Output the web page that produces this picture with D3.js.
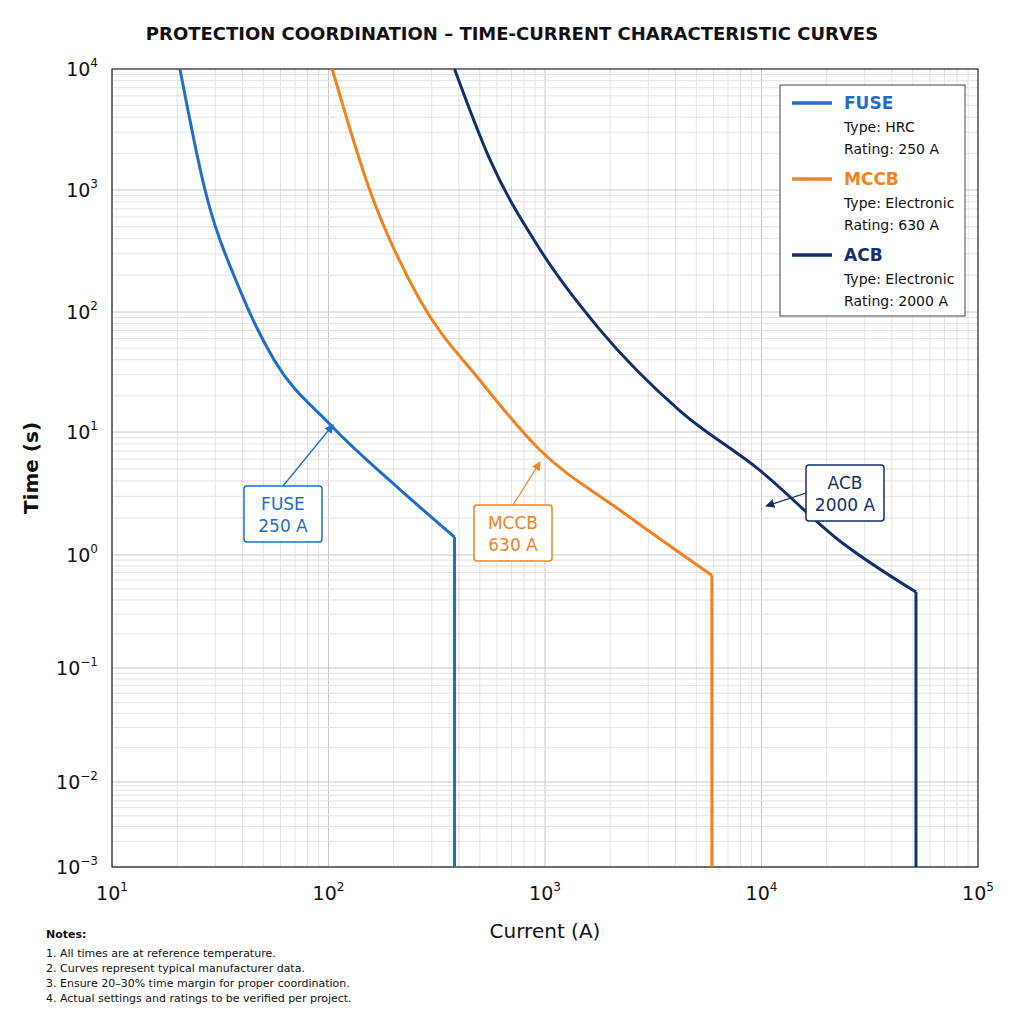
<!DOCTYPE html>
<html><head><meta charset="utf-8">
<script src="https://cdn.jsdelivr.net/npm/d3@7"></script>
<style>body{margin:0;background:#fff;font-family:"DejaVu Sans",sans-serif}</style>
</head><body><svg id="chart" width="1024" height="1024"></svg>
<script>
// data (current A, time s)
const fuseCurrent = [20.6, 26.9, 39, 56, 102, 214, 382, 382];
const fuseTime    = [10000, 1000, 151, 40, 11.5, 3.4, 1.4, 0.001];
const mccbCurrent = [104, 155, 264, 500, 950, 2230, 5900, 5900];
const mccbTime    = [10000, 1000, 126, 27, 7.1, 2.3, 0.66, 0.001];
const acbCurrent  = [382, 557, 950, 1795, 4200, 9800, 23000, 51700, 51700];
const acbTime     = [10000, 1780, 324, 71, 15, 4.9, 1.3, 0.47, 0.001];
const yDecades = [1e-3, 1e-2, 1e-1, 1, 10, 100, 1e3, 1e4];

const devices = [
  {name: "FUSE", type: "HRC", rating: "250 A", color: "#1f6fc9", cur: fuseCurrent, t: fuseTime, tip: [105, 11.5], box: [283, 514]},
  {name: "MCCB", type: "Electronic", rating: "630 A", color: "#f5821f", cur: mccbCurrent, t: mccbTime, tip: [950, 5.7], box: [513, 533]},
  {name: "ACB", type: "Electronic", rating: "2000 A", color: "#142f6b", cur: acbCurrent, t: acbTime, tip: [10500, 2.5], box: [845, 493]}
];
const notes = [
  "1.  All times are at reference temperature.",
  "2.  Curves represent typical manufacturer data.",
  "3.  Ensure 20\u201330% time margin for proper coordination.",
  "4.  Actual settings and ratings to be verified per project."
];

const svg = d3.select("#chart");
const x = d3.scaleLog().domain([10, 1e5]).range([112, 978]);
// the reference's decades are not evenly spaced, so a piecewise log scale
const y = d3.scaleLog().domain(yDecades).range([867, 782, 668, 555, 432, 312, 190, 69]);

// grid
const g = svg.append("g");
for (let e = 1; e < 5; e++) for (let k = 1; k <= 9; k++) {
  const v = k * Math.pow(10, e);
  g.append("line").attr("x1", x(v)).attr("x2", x(v)).attr("y1", 69).attr("y2", 867)
    .attr("stroke", k == 1 ? "#c8c8c8" : "#e3e3e3").attr("stroke-width", 1);
}
for (let e = -3; e < 4; e++) for (let k = 1; k <= 9; k++) {
  const v = k * Math.pow(10, e);
  g.append("line").attr("x1", 112).attr("x2", 978).attr("y1", y(v)).attr("y2", y(v))
    .attr("stroke", k == 1 ? "#c8c8c8" : "#e3e3e3").attr("stroke-width", 1);
}
svg.append("rect").attr("x", 112).attr("y", 69).attr("width", 866).attr("height", 798)
  .attr("fill", "none").attr("stroke", "#222").attr("stroke-width", 1.2);

// tick labels
function pow(sel, e) {
  sel.append("tspan").text("10");
  sel.append("tspan").attr("dy", -9).attr("font-size", 12).text(e < 0 ? "\u2212" + (-e) : e);
}
for (let e = 1; e <= 5; e++) {
  const t = svg.append("text").attr("x", x(Math.pow(10, e))).attr("y", 900)
    .attr("text-anchor", "middle").attr("font-size", 19).attr("fill", "#111");
  pow(t, e);
}
yDecades.forEach(v => {
  const t = svg.append("text").attr("x", 98).attr("y", y(v) + 7)
    .attr("text-anchor", "end").attr("font-size", 19).attr("fill", "#111");
  pow(t, Math.round(Math.log10(v)));
});

svg.append("text").attr("x", 512).attr("y", 40).attr("text-anchor", "middle")
  .attr("font-size", 18).attr("font-weight", 600).attr("fill", "#111")
  .text("PROTECTION COORDINATION \u2013 TIME-CURRENT CHARACTERISTIC CURVES");
svg.append("text").attr("x", 545).attr("y", 938).attr("text-anchor", "middle")
  .attr("font-size", 20).attr("fill", "#111").text("Current (A)");
svg.append("text").attr("transform", "translate(38,468) rotate(-90)").attr("text-anchor", "middle")
  .attr("font-size", 20).attr("font-weight", "bold").attr("fill", "#111").text("Time (s)");

// curves
const line = d3.line().x(d => x(d[0])).y(d => y(d[1])).curve(d3.curveMonotoneX);
devices.forEach(d => {
  const pts = d.cur.map((c, i) => [c, d.t[i]]);
  svg.append("path").attr("d", line(pts.slice(0, -1))).attr("fill", "none")
    .attr("stroke", d.color).attr("stroke-width", 3);
  svg.append("path").attr("d", d3.line().x(p => x(p[0])).y(p => y(p[1]))(pts.slice(-2)))
    .attr("fill", "none").attr("stroke", d.color).attr("stroke-width", 3);
});

// annotations
svg.append("defs").selectAll("marker").data(devices).join("marker")
  .attr("id", d => "ar" + d.name).attr("viewBox", "0 0 10 10").attr("refX", 9).attr("refY", 5)
  .attr("markerWidth", 7).attr("markerHeight", 7).attr("orient", "auto")
  .append("path").attr("d", "M0,0L10,5L0,10z").attr("fill", d => d.color);
devices.forEach(d => {
  const [bx, by] = d.box, w = 78, h = 56;
  let sx = bx, sy = by - h / 2;
  if (d.name == "ACB") { sx = bx - w / 2; sy = by; }
  svg.append("line").attr("x1", sx).attr("y1", sy).attr("x2", x(d.tip[0])).attr("y2", y(d.tip[1]))
    .attr("stroke", d.color).attr("stroke-width", 1.3).attr("marker-end", "url(#ar" + d.name + ")");
  svg.append("rect").attr("x", bx - w / 2).attr("y", by - h / 2).attr("width", w).attr("height", h)
    .attr("rx", 3).attr("fill", "#fff").attr("stroke", d.color).attr("stroke-width", 1.5);
  svg.append("text").attr("x", bx).attr("y", by - 4).attr("text-anchor", "middle")
    .attr("font-size", 17).attr("fill", d.color).text(d.name);
  svg.append("text").attr("x", bx).attr("y", by + 18).attr("text-anchor", "middle")
    .attr("font-size", 17).attr("fill", d.color).text(d.rating);
});

// legend
const lg = svg.append("g").attr("transform", "translate(780,85)");
lg.append("rect").attr("width", 185).attr("height", 231).attr("fill", "#fff").attr("stroke", "#444");
devices.forEach((d, i) => {
  const oy = 18 + i * 76;
  lg.append("line").attr("x1", 12).attr("x2", 52).attr("y1", oy).attr("y2", oy)
    .attr("stroke", d.color).attr("stroke-width", 3.5);
  lg.append("text").attr("x", 64).attr("y", oy + 6).attr("font-size", 17).attr("font-weight", "bold")
    .attr("fill", d.color).text(d.name);
  lg.append("text").attr("x", 64).attr("y", oy + 29).attr("font-size", 14).attr("fill", "#111").text("Type: " + d.type);
  lg.append("text").attr("x", 64).attr("y", oy + 51).attr("font-size", 14).attr("fill", "#111").text("Rating: " + d.rating);
});

// notes
svg.append("text").attr("x", 46).attr("y", 938).attr("font-size", 11).attr("font-weight", "bold")
  .attr("fill", "#111").text("Notes:");
notes.forEach((n, i) => svg.append("text").attr("x", 46).attr("y", 957 + i * 15)
  .attr("font-size", 11).attr("fill", "#111").text(n));
</script></body></html>
